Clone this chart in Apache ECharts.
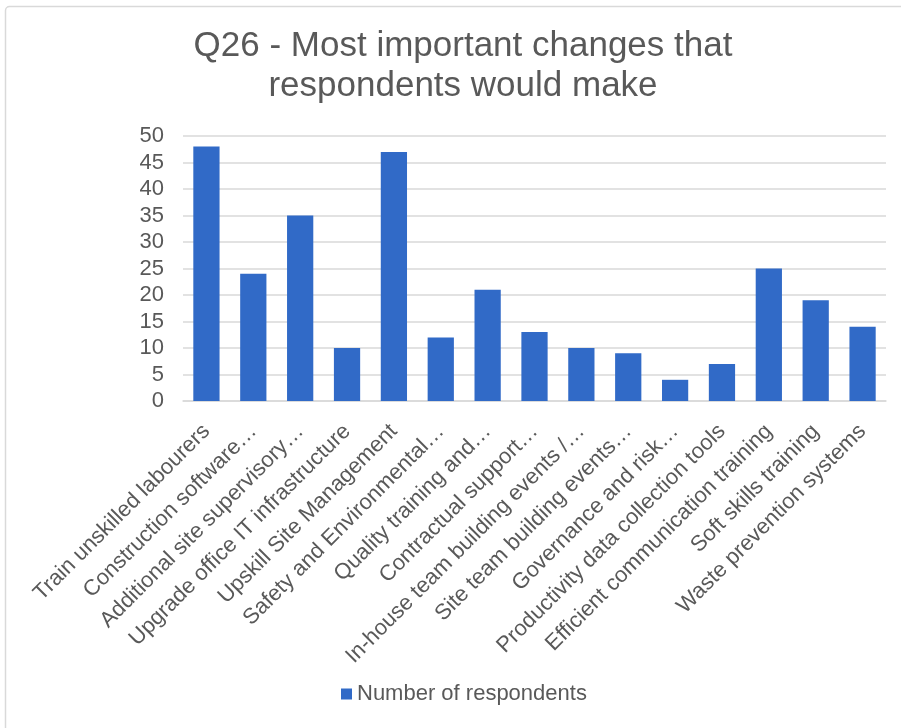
<!DOCTYPE html>
<html>
<head>
<meta charset="utf-8">
<script src="https://cdn.jsdelivr.net/npm/echarts@6/dist/echarts.min.js"></script>
<style>
  html, body { margin: 0; padding: 0; background: #fff; }
  #chart { width: 901px; height: 728px; }
</style>
</head>
<body>
<div id="chart"></div>
<script>
const categories = [
  "Train unskilled labourers",
  "Construction software…",
  "Additional site supervisory…",
  "Upgrade office IT infrastructure",
  "Upskill Site Management",
  "Safety and Environmental…",
  "Quality training and…",
  "Contractual support…",
  "In-house team building events /…",
  "Site team building events…",
  "Governance and risk…",
  "Productivity data collection tools",
  "Efficient communication training",
  "Soft skills training",
  "Waste prevention systems"
];
const respondents = [48, 24, 35, 10, 47, 12, 21, 13, 10, 9, 4, 7, 25, 19, 14];
const seriesName = "Number of respondents";

const textColor = "#595959";
const gridColor = "#D9D9D9";
const font = "'Liberation Sans', Arial, sans-serif";

const chart = echarts.init(document.getElementById("chart"));
chart.setOption({
  animation: false,
  textStyle: { fontFamily: font },
  graphic: [
    {
      type: "rect",
      shape: { x: 5.5, y: 6.5, width: 1000, height: 1000, r: 4 },
      style: { fill: "none", stroke: gridColor, lineWidth: 1.5 },
      z: -1
    }
  ],
  title: {
    text: "Q26 - Most important changes that\nrespondents would make",
    left: 458,
    top: 21,
    textAlign: "center",
    textStyle: {
      fontFamily: font,
      fontSize: 35,
      fontWeight: "normal",
      color: textColor,
      lineHeight: 40
    }
  },
  legend: {
    data: [seriesName],
    left: 336,
    bottom: 18,
    icon: "rect",
    itemWidth: 11,
    itemHeight: 11,
    itemGap: 6,
    textStyle: { fontFamily: font, fontSize: 22, color: textColor }
  },
  grid: { left: 183, right: 15, top: 136, bottom: 327 },
  xAxis: {
    type: "category",
    data: categories,
    axisLine: { lineStyle: { color: gridColor, width: 1.5 } },
    axisTick: { show: false },
    axisLabel: {
      interval: 0,
      rotate: 45,
      margin: 27,
      fontFamily: font,
      fontSize: 22,
      color: textColor
    }
  },
  yAxis: {
    type: "value",
    min: 0,
    max: 50,
    interval: 5,
    axisLine: { show: false },
    axisTick: { show: false },
    axisLabel: { fontFamily: font, fontSize: 22, color: textColor, margin: 19 },
    splitLine: { lineStyle: { color: gridColor, width: 1.5 } }
  },
  series: [
    {
      name: seriesName,
      type: "bar",
      data: respondents,
      barCategoryGap: "44%",
      itemStyle: { color: "#316AC7" }
    }
  ]
});
</script>
</body>
</html>
